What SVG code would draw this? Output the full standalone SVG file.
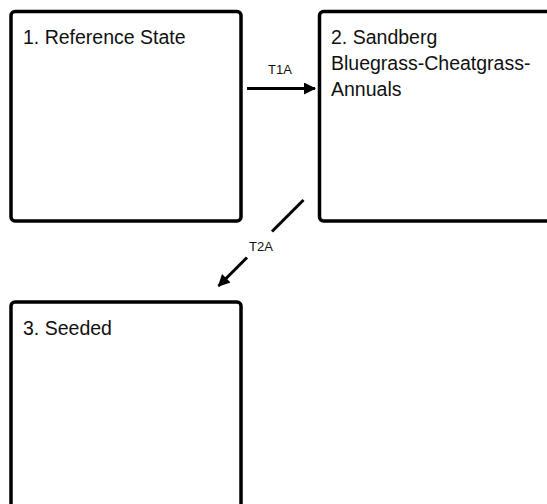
<svg xmlns="http://www.w3.org/2000/svg" width="547" height="504" viewBox="0 0 547 504">
<style>
.box{fill:#fff;stroke:#000;stroke-width:3.5}
.lbl{font-family:"Liberation Sans",Arial,sans-serif;font-size:19.5px;fill:#111}
.tl{font-family:"Liberation Sans",Arial,sans-serif;font-size:13px;fill:#111;text-anchor:middle}
.con{fill:none;stroke:#000;stroke-width:3}
</style>
<defs>
<marker id="ah" markerUnits="userSpaceOnUse" markerWidth="14" markerHeight="14" refX="11" refY="6" orient="auto">
<path d="M0,0 L12,6 L0,12 Z" fill="#000"/>
</marker>
</defs>
<g id="node1">
<rect class="box" x="11" y="11.5" width="230" height="209.5" rx="4"/>
<text class="lbl" x="23" y="43.5">1. Reference State</text>
</g>
<g id="node2">
<rect class="box" x="319.5" y="11.5" width="232" height="209.5" rx="4"/>
<text class="lbl" x="331" y="43.5">2. Sandberg</text>
<text class="lbl" x="331" y="69.5">Bluegrass-Cheatgrass-</text>
<text class="lbl" x="331" y="95.5">Annuals</text>
</g>
<g id="node3">
<rect class="box" x="11" y="302" width="230" height="220" rx="4"/>
<text class="lbl" x="23" y="334.5">3. Seeded</text>
</g>
<g id="connectors">
<path class="con" d="M247,88.5 L315,88.5" marker-end="url(#ah)"/>
<text class="tl" x="280" y="74">T1A</text>
<path class="con" d="M303.5,200 L272,231.5"/>
<path class="con" d="M247,257.5 L218.5,286" marker-end="url(#ah)"/>
<text class="tl" x="261" y="251">T2A</text>
</g>
</svg>
